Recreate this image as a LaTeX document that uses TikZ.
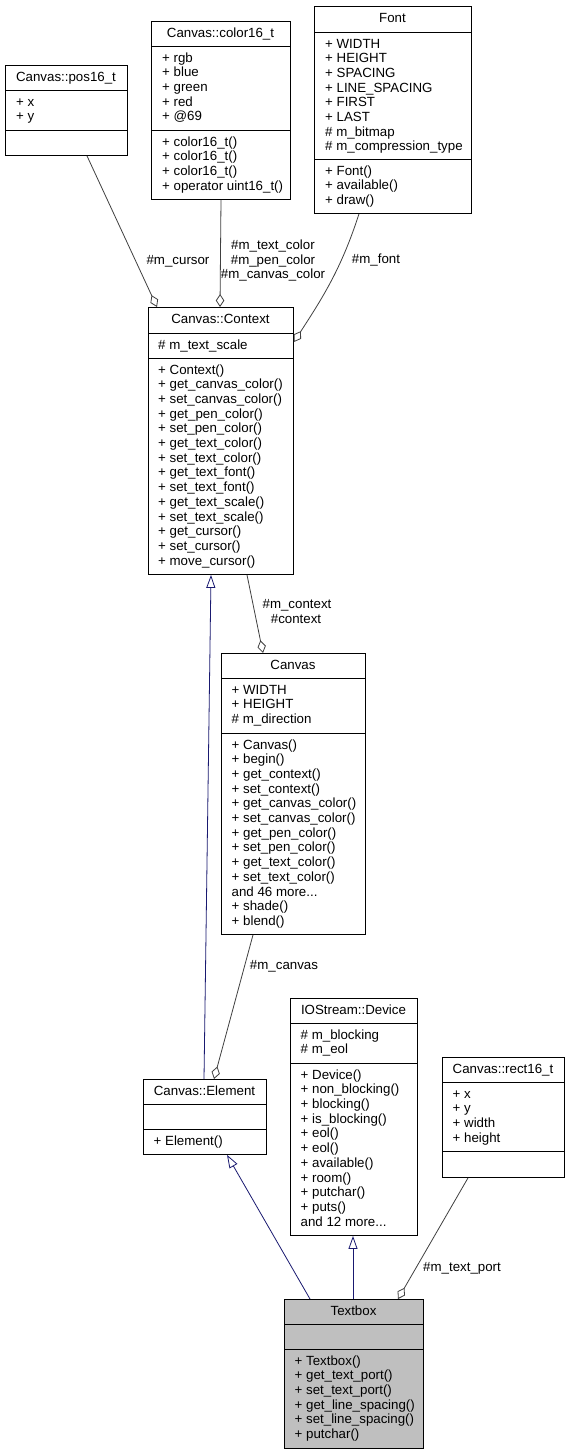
\documentclass[tikz,border=0pt]{standalone}
\usepackage{fontspec}
\setmainfont{Liberation Sans}
\usetikzlibrary{arrows.meta}
\definecolor{grey25}{HTML}{404040}
\definecolor{grey75}{HTML}{BFBFBF}
\definecolor{navyedge}{HTML}{191970}
\newcommand{\classfont}{\fontsize{13.3}{14.67}\selectfont}
\newcommand{\tdots}{...}
% name prefix, x, first baseline, list
\newcommand{\classlines}[4]{%
  \foreach \t [count=\i from 0] in {#4}
    \node[txt, anchor=base west, name=#1-\i] at (#2, #3+\i*14.67) {\t};}
\tikzset{
  box/.style={draw=black, line width=0.9pt, inner sep=0pt, anchor=north west},
  sepline/.style={draw=black, line width=0.9pt},
  txt/.style={inner sep=0pt, font=\classfont},
  lbl/.style={inner sep=0pt, font=\classfont, anchor=base},
  agg/.style={draw=grey25, line width=0.8pt, -{Diamond[open, length=13pt, width=8.5pt, line width=0.8pt]}},
  inh/.style={draw=navyedge, line width=0.8pt, -{Triangle[open, length=13pt, width=9pt, line width=0.8pt]}},
}
\begin{document}
\begin{tikzpicture}[x=1pt, y=-1pt]
\path[use as bounding box, fill=white] (0,0) rectangle (570,1455);

% ---------- Canvas::pos16_t
\node[box, fill=white, minimum width=122pt, minimum height=90pt] (pos) at (5,65) {};
\draw[sepline] (5,90) -- (127,90);
\draw[sepline] (5,130) -- (127,130);
\node[txt, anchor=base] (pos-t) at (66,81.3) {Canvas::pos16\_t};
\classlines{posa}{16}{106.3}{+ x, + y}

% ---------- Canvas::color16_t
\node[box, fill=white, minimum width=139pt, minimum height=178pt] (col) at (151,21) {};
\draw[sepline] (151,46) -- (290,46);
\draw[sepline] (151,130) -- (290,130);
\node[txt, anchor=base] (col-t) at (220.5,37.3) {Canvas::color16\_t};
\classlines{cola}{162}{62.3}{+ rgb, + blue, + green, + red, + @69}
\classlines{colm}{162}{146.3}{+ color16\_t(), + color16\_t(), + color16\_t(), + operator uint16\_t()}

% ---------- Font
\node[box, fill=white, minimum width=157pt, minimum height=207pt] (font) at (314,6) {};
\draw[sepline] (314,32) -- (471,32);
\draw[sepline] (314,159) -- (471,159);
\node[txt, anchor=base] (font-t) at (392.5,22.3) {Font};
\classlines{fonta}{325}{48.3}{+ WIDTH, + HEIGHT, + SPACING, + LINE\_SPACING, + FIRST, + LAST, \# m\_bitmap, \# m\_compression\_type}
\classlines{fontm}{325}{175.3}{+ Font(), + available(), + draw()}

% ---------- Canvas::Context
\node[box, fill=white, minimum width=145pt, minimum height=267pt] (ctx) at (148,307) {};
\draw[sepline] (148,333) -- (293,333);
\draw[sepline] (148,358) -- (293,358);
\node[txt, anchor=base] (ctx-t) at (220.5,323.3) {Canvas::Context};
\classlines{ctxa}{158}{349.3}{\# m\_text\_scale}
\classlines{ctxm}{158}{374.3}{+ Context(), + get\_canvas\_color(), + set\_canvas\_color(), + get\_pen\_color(), + set\_pen\_color(), + get\_text\_color(), + set\_text\_color(), + get\_text\_font(), + set\_text\_font(), + get\_text\_scale(), + set\_text\_scale(), + get\_cursor(), + set\_cursor(), + move\_cursor()}

% ---------- Canvas
\node[box, fill=white, minimum width=144pt, minimum height=281pt] (canvas) at (221,653) {};
\draw[sepline] (221,678) -- (365,678);
\draw[sepline] (221,733) -- (365,733);
\node[txt, anchor=base] (canvas-t) at (293,669.3) {Canvas};
\classlines{canvasa}{231.5}{694.3}{+ WIDTH, + HEIGHT, \# m\_direction}
\classlines{canvasm}{231.5}{749.3}{+ Canvas(), + begin(), + get\_context(), + set\_context(), + get\_canvas\_color(), + set\_canvas\_color(), + get\_pen\_color(), + set\_pen\_color(), + get\_text\_color(), + set\_text\_color(), and 46 more\tdots, + shade(), + blend()}

% ---------- Canvas::Element
\node[box, fill=white, minimum width=123pt, minimum height=75pt] (elem) at (143,1079) {};
\draw[sepline] (143,1104) -- (266,1104);
\draw[sepline] (143,1129) -- (266,1129);
\node[txt, anchor=base] (elem-t) at (204.5,1095.3) {Canvas::Element};
\classlines{elemm}{153.5}{1145.3}{+ Element()}

% ---------- IOStream::Device
\node[box, fill=white, minimum width=127pt, minimum height=237pt] (dev) at (290,998) {};
\draw[sepline] (290,1023) -- (417,1023);
\draw[sepline] (290,1063) -- (417,1063);
\node[txt, anchor=base] (dev-t) at (353.5,1014.3) {IOStream::Device};
\classlines{deva}{300.5}{1039.3}{\# m\_blocking, \# m\_eol}
\classlines{devm}{300.5}{1079.3}{+ Device(), + non\_blocking(), + blocking(), + is\_blocking(), + eol(), + eol(), + available(), + room(), + putchar(), + puts(), and 12 more\tdots}

% ---------- Canvas::rect16_t
\node[box, fill=white, minimum width=122pt, minimum height=120pt] (rect) at (442,1057) {};
\draw[sepline] (442,1082) -- (564,1082);
\draw[sepline] (442,1151) -- (564,1151);
\node[txt, anchor=base] (rect-t) at (503,1073.3) {Canvas::rect16\_t};
\classlines{recta}{452.5}{1098.3}{+ x, + y, + width, + height}

% ---------- Textbox
\node[box, fill=grey75, minimum width=139pt, minimum height=149pt] (tb) at (284,1299) {};
\draw[sepline] (284,1324) -- (423,1324);
\draw[sepline] (284,1349) -- (423,1349);
\node[txt, anchor=base] (tb-t) at (353.5,1315.3) {Textbox};
\classlines{tbm}{294.5}{1365.3}{+ Textbox(), + get\_text\_port(), + set\_text\_port(), + get\_line\_spacing(), + set\_line\_spacing(), + putchar()}

% ---------- connectors
\draw[agg] ([xshift=82pt]pos.south west) -- ([xshift=9pt]ctx.north west);
\node[lbl] (l-cursor) at (178,264) {\#m\_cursor};

\draw[agg] ([xshift=70pt]col.south west) -- ([xshift=72pt]ctx.north west);
\node[lbl] (l-tc) at (273,249.5) {\#m\_text\_color};
\node[lbl] (l-pc) at (273,264) {\#m\_pen\_color};
\node[lbl] (l-cc) at (273,278.5) {\#m\_canvas\_color};

\draw[agg] ([xshift=45pt]font.south west) to[out=-108, in=57] ([yshift=-35pt]ctx.north east);
\node[lbl] (l-font) at (376,263.5) {\#m\_font};

\draw[agg] ([xshift=99pt]ctx.south west) -- ([xshift=42pt]canvas.north west);
\node[lbl] (l-mctx) at (297,608.5) {\#m\_context};
\node[lbl] (l-ctx) at (296,623) {\#context};

\draw[inh] ([xshift=61pt]elem.north west) -- ([xshift=63pt]ctx.south west);

\draw[agg] ([xshift=32pt]canvas.south west) -- ([xshift=71pt]elem.north west);
\node[lbl] (l-canvas) at (284,969.5) {\#m\_canvas};

\draw[inh] ([xshift=26pt]tb.north west) -- ([xshift=84pt]elem.south west);
\draw[inh] ([xshift=69pt]tb.north west) -- ([xshift=63pt]dev.south west);

\draw[agg] ([xshift=26pt]rect.south west) -- ([xshift=114pt]tb.north west);
\node[lbl] (l-port) at (462,1271.5) {\#m\_text\_port};
\end{tikzpicture}
\end{document}
